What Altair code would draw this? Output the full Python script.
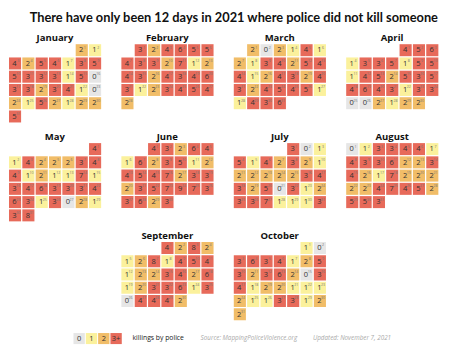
import altair as alt
import pandas as pd
import datetime as dt

# ---------------- data ----------------
months = ["January", "February", "March", "April", "May", "June",
          "July", "August", "September", "October"]
jan = [2, 1, 4, 2, 5, 4, 1, 3, 5, 5, 3, 3, 3, 1, 5, 0, 3, 3, 2, 3, 4, 1, 0, 2, 1, 5, 2, 1, 2, 2, 5]
feb = [3, 2, 4, 6, 5, 5, 4, 3, 3, 2, 7, 1, 2, 4, 3, 2, 4, 3, 4, 6, 3, 1, 2, 3, 4, 5, 4, 2]
mar = [2, 0, 2, 1, 4, 1, 2, 1, 3, 4, 2, 5, 4, 4, 1, 2, 4, 3, 2, 4, 3, 2, 4, 5, 4, 5, 1, 1, 4, 3, 6]
apr = [4, 5, 6, 1, 3, 3, 5, 1, 5, 5, 1, 4, 5, 2, 5, 3, 5, 4, 6, 4, 3, 1, 3, 3, 0, 0, 2, 1, 2, 2]
may = [4, 1, 4, 2, 2, 2, 3, 4, 4, 1, 2, 1, 1, 7, 1, 3, 4, 6, 3, 3, 3, 4, 6, 3, 1, 3, 0, 2, 1, 3, 8]
jun = [4, 3, 2, 6, 4, 1, 6, 2, 3, 5, 1, 2, 4, 5, 4, 7, 2, 3, 3, 2, 3, 5, 7, 9, 7, 3, 3, 6, 2, 3]
jul = [3, 0, 1, 5, 1, 4, 2, 3, 2, 1, 2, 2, 2, 2, 2, 3, 4, 3, 2, 5, 0, 3, 1, 2, 3, 3, 7, 1, 1, 1, 3]
aug = [0, 1, 3, 3, 4, 4, 1, 4, 3, 3, 6, 2, 2, 3, 4, 2, 1, 7, 2, 2, 2, 2, 2, 4, 7, 4, 5, 2, 5, 5, 3]
sep = [4, 2, 8, 2, 1, 2, 8, 1, 4, 5, 4, 1, 2, 2, 3, 4, 2, 6, 1, 2, 3, 3, 6, 1, 3, 0, 4, 4, 4, 2]
oct_ = [1, 0, 3, 6, 3, 4, 1, 2, 5, 3, 2, 3, 6, 2, 0, 3, 4, 1, 2, 2, 1, 1, 1, 2, 1, 1, 3, 3, 1, 2, 2]
series = [jan, feb, mar, apr, may, jun, jul, aug, sep, oct_]

categories = ["0", "1", "2", "3+"]
colors = ["#e6e6e6", "#fbf19c", "#f1bd68", "#e76a5a"]

title_text = "There have only been 12 days in 2021 where police did not kill someone"
legend_label = "killings by police"
source_text = "Source: MappingPoliceViolence.org"
updated_text = "Updated: November 7, 2021"

# ---------------- layout (reference pixel space) ----------------
PANEL_POS = [(0, 0), (1, 0), (2, 0), (3, 0), (0, 1), (1, 1), (2, 1), (3, 1), (1, 2), (2, 2)]
X0, XSTEP, Y0, YSTEP = 4.0, 115.0, 39.7, 103.0
CX, CY, CW, CH = 13.65, 13.8, 12.4, 12.5

XA, XB, YA, YB = 3.0, 446.0, 2.0, 354.0
W, H = 433, 338
sx, sy = W / (XB - XA), H / (YB - YA)


def px(x):
    return (x - XA) * sx


def py(y):
    return (y - YA) * sy


def cat(v):
    return "3+" if v >= 3 else str(v)


rows = []
for i, (name, vals) in enumerate(zip(months, series)):
    col, row = PANEL_POS[i]
    first = dt.date(2021, i + 1, 1)
    fwd = (first.weekday() + 1) % 7
    for d, v in enumerate(vals, start=1):
        wd = (fwd + d - 1) % 7
        wk = (fwd + d - 1) // 7
        left = X0 + XSTEP * col + CX * wd
        top = Y0 + YSTEP * row + CY * wk
        rows.append(dict(month=name, day=d, value=v, cat=cat(v),
                         x=left, x2=left + CW, y=top, y2=top + CH,
                         tx=left + 5.6, ty=top + CH / 2 + 0.3,
                         sxp=left + 9.4, syp=top + 3.6))
cells = pd.DataFrame(rows)

mrows = []
for i, name in enumerate(months):
    col, row = PANEL_POS[i]
    mrows.append(dict(month=name, x=X0 + XSTEP * col + 47, y=Y0 + YSTEP * row - 6.6))
mlabels = pd.DataFrame(mrows)

LEG_X, LEG_Y, LEG_STEP = 70.0, 340.5, 12.6
leg = pd.DataFrame([dict(cat=c, x=LEG_X + LEG_STEP * k, x2=LEG_X + LEG_STEP * k + 11.6,
                         y=LEG_Y, y2=LEG_Y + 11.5, tx=LEG_X + LEG_STEP * k + 5.8,
                         ty=LEG_Y + 6) for k, c in enumerate(categories)])

xs = alt.Scale(domain=[XA, XB], nice=False, zero=False)
ys = alt.Scale(domain=[YA, YB], nice=False, zero=False, reverse=True)
cs = alt.Scale(domain=categories, range=colors)
FONT = "Open Sans"

base = alt.Chart(cells)
rects = base.mark_rect(stroke="white", strokeWidth=0).encode(
    x=alt.X("x:Q", scale=xs, axis=None), x2="x2:Q",
    y=alt.Y("y:Q", scale=ys, axis=None), y2="y2:Q",
    color=alt.Color("cat:N", scale=cs, legend=None),
    tooltip=["month:N", "day:Q", "value:Q"],
)
nums = base.mark_text(fontSize=7.5, font=FONT, color="#333333", baseline="middle", align="center").encode(
    x=alt.X("tx:Q", scale=xs, axis=None), y=alt.Y("ty:Q", scale=ys, axis=None), text="value:Q")
sups = base.mark_text(fontSize=3.5, font=FONT, color="#777777", baseline="middle", align="center").encode(
    x=alt.X("sxp:Q", scale=xs, axis=None), y=alt.Y("syp:Q", scale=ys, axis=None), text="day:Q")

mtext = alt.Chart(mlabels).mark_text(fontSize=9.5, font=FONT, fontWeight="bold", color="#111111",
                                     baseline="middle", align="center").encode(
    x=alt.X("x:Q", scale=xs, axis=None), y=alt.Y("y:Q", scale=ys, axis=None), text="month:N")

legr = alt.Chart(leg).mark_rect().encode(
    x=alt.X("x:Q", scale=xs, axis=None), x2="x2:Q",
    y=alt.Y("y:Q", scale=ys, axis=None), y2="y2:Q",
    color=alt.Color("cat:N", scale=cs, legend=None))
legt = alt.Chart(leg).mark_text(fontSize=7.5, font=FONT, color="#333333", baseline="middle").encode(
    x=alt.X("tx:Q", scale=xs, axis=None), y=alt.Y("ty:Q", scale=ys, axis=None), text="cat:N")

title = alt.Chart(pd.DataFrame({"t": [title_text]})).mark_text(
    fontSize=12.8, font="Lato", fontWeight="bold", color="#111111", baseline="middle", align="center"
).encode(x=alt.value(px(234)), y=alt.value(py(12)), text="t:N")

f1 = alt.Chart(pd.DataFrame({"t": [legend_label]})).mark_text(
    fontSize=6.8, font=FONT, color="#222222", align="right", baseline="middle"
).encode(x=alt.value(px(183)), y=alt.value(py(346)), text="t:N")
f2 = alt.Chart(pd.DataFrame({"t": [source_text]})).mark_text(
    fontSize=6.3, font=FONT, fontStyle="italic", color="#aaaaaa", align="left", baseline="middle"
).encode(x=alt.value(px(200)), y=alt.value(py(346)), text="t:N")
f3 = alt.Chart(pd.DataFrame({"t": [updated_text]})).mark_text(
    fontSize=6.3, font=FONT, fontStyle="italic", color="#aaaaaa", align="left", baseline="middle"
).encode(x=alt.value(px(315)), y=alt.value(py(346)), text="t:N")

chart = alt.layer(rects, nums, sups, mtext, legr, legt, title, f1, f2, f3).properties(
    width=W, height=H, padding=0, autosize=alt.AutoSizeParams(type="none"),
    background="white",
).configure_view(stroke=None)

chart.save("out.html", embed_options={"renderer": "svg", "actions": False})
